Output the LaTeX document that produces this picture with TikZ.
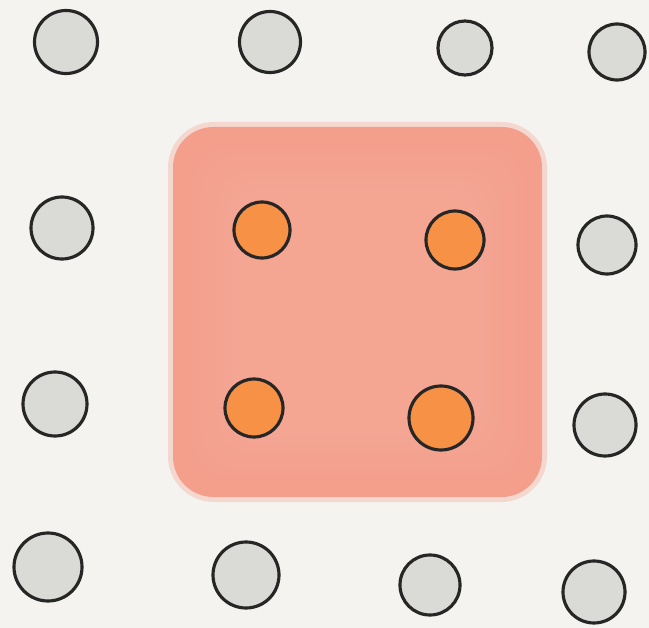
\documentclass[tikz,border=0pt]{standalone}
\usepackage{tikz}
\usetikzlibrary{positioning}
\definecolor{paper}{HTML}{F4F3EF}
\definecolor{dotgray}{HTML}{DADAD7}
\definecolor{dotorange}{HTML}{F79146}
\definecolor{salmon}{HTML}{F7A28D}
\definecolor{salmonedge}{HTML}{F58B76}
\definecolor{salmonlight}{HTML}{F9AE9B}
\definecolor{inkline}{HTML}{262626}
\begin{document}
\begin{tikzpicture}[
    x=0.02cm, y=-0.02cm,
    dot/.style={circle, draw=inkline, line width=1.8pt, fill=dotgray, inner sep=0pt,
                minimum size=#1*0.02cm},
    hot/.style={dot=#1, fill=dotorange}
]
    % page
    \fill[paper] (0,0) rectangle (649,628);
    \useasboundingbox (0,0) rectangle (649,628);

    % soft square behind the middle dots
    \fill[salmonedge, opacity=0.25, rounded corners=26pt] (168,122) rectangle (547,502);
    \fill[salmonedge, opacity=0.75, rounded corners=23pt] (173,127) rectangle (542,497);
    \foreach \d in {12,20,...,76}
        \fill[salmonlight, opacity=0.12, rounded corners=20pt]
            (173+\d,127+\d) rectangle (542-\d,497-\d);

    % row 1
    \node[dot=63] (a1) at (66,42) {};
    \node[dot=61] (a2) at (270,42) {};
    \node[dot=54] (a3) at (465,48) {};
    \node[dot=56] (a4) at (617,52) {};
    % row 2
    \node[dot=62] (b1) at (62,228) {};
    \node[hot=56] (b2) at (262,230) {};
    \node[hot=58] (b3) at (455,240) {};
    \node[dot=58] (b4) at (607,245) {};
    % row 3
    \node[dot=64] (c1) at (55,404) {};
    \node[hot=58] (c2) at (254,408) {};
    \node[hot=64] (c3) at (441,418) {};
    \node[dot=62] (c4) at (605,425) {};
    % row 4
    \node[dot=68] (d1) at (48,567) {};
    \node[dot=66] (d2) at (246,575) {};
    \node[dot=60] (d3) at (430,585) {};
    \node[dot=62] (d4) at (594,592) {};
\end{tikzpicture}
\end{document}
